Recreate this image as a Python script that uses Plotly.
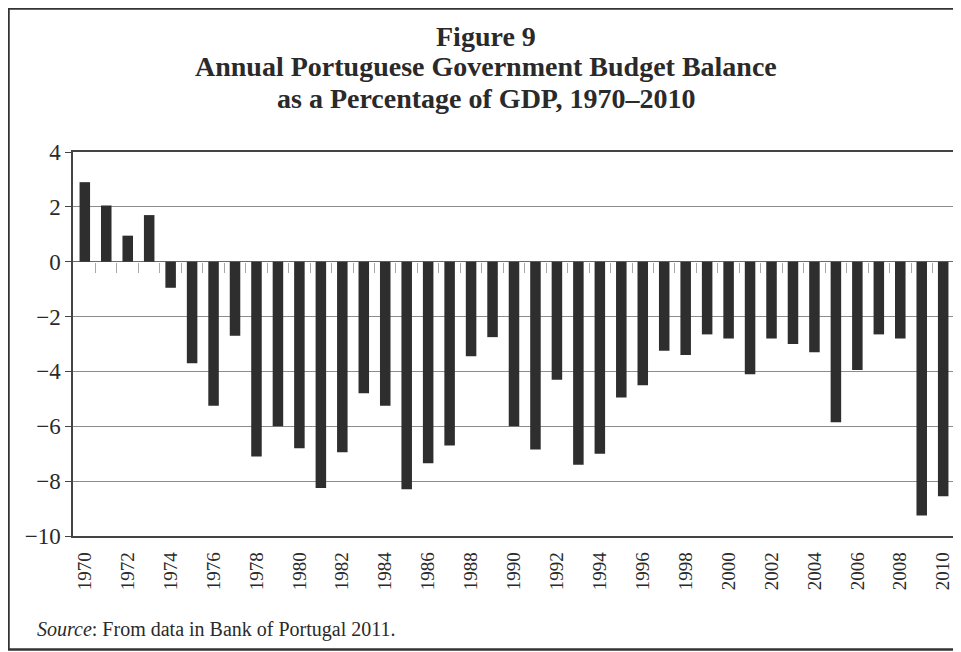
import plotly.graph_objects as go

years = list(range(1970, 2011))
balance = [2.9, 2.05, 0.95, 1.7, -0.95, -3.7, -5.25, -2.7, -7.1, -6.0,
           -6.8, -8.25, -6.95, -4.8, -5.25, -8.3, -7.35, -6.7, -3.45, -2.75,
           -6.0, -6.85, -4.3, -7.4, -7.0, -4.95, -4.5, -3.25, -3.4, -2.65,
           -2.8, -4.1, -2.8, -3.0, -3.3, -5.85, -3.95, -2.65, -2.8, -9.25,
           -8.55]
x_ticks = list(range(1970, 2011, 2))
y_ticks = [4, 2, 0, -2, -4, -6, -8, -10]
y_tick_text = ["4", "2", "0", "\u22122", "\u22124", "\u22126", "\u22128", "\u221210"]
minor_ticks = [y + 0.5 for y in years[:-1]]

serif = "Liberation Serif, Times New Roman, serif"

# figure geometry (pixels)
W, H = 953, 644
L, R, T, B = 65, 6, 144, 116
PW, PH = W - L - R, H - T - B


def px(fx):
    return (fx - L) / PW


def py(fy):
    return (H - B - fy) / PH


fig = go.Figure()
fig.add_trace(go.Bar(x=years, y=balance, width=0.49,
                     marker=dict(color="#2e2e2e", line=dict(width=0))))

title_lines = ["Figure 9", "Annual Portuguese Government Budget Balance",
               "as a Percentage of GDP, 1970\u20132010"]
title_y = [28, 59, 90]
annotations = []
for txt, ty in zip(title_lines, title_y):
    annotations.append(dict(
        text="<b>" + txt + "</b>", xref="paper", yref="paper",
        x=px(478), y=py(ty), xanchor="center", yanchor="middle",
        showarrow=False, font=dict(family=serif, size=28, color="#2a2a2a")))
annotations.append(dict(
    text="<i>Source</i>: From data in Bank of Portugal 2011.",
    xref="paper", yref="paper", x=px(27), y=py(621),
    xanchor="left", yanchor="middle", showarrow=False,
    font=dict(family=serif, size=20, color="#2a2a2a")))

fig.update_layout(
    width=W, height=H,
    margin=dict(l=L, r=R, t=T, b=B, autoexpand=False),
    paper_bgcolor="white", plot_bgcolor="white",
    showlegend=False,
    font=dict(family=serif, color="#2a2a2a"),
    xaxis=dict(
        range=[1969.45, 2010.55], tickvals=x_ticks, ticktext=[str(v) for v in x_ticks],
        tickangle=-90, tickfont=dict(family=serif, size=19, color="#2a2a2a"),
        showgrid=False, zeroline=False, showline=True, linecolor="#444",
        linewidth=1.5, mirror=True, ticks="", ticklabelstandoff=7,
        automargin=False,
    ),
    xaxis2=dict(
        range=[1969.45, 2010.55], overlaying="x", anchor="free",
        position=(0 - (-10)) / 14, side="bottom",
        tickvals=minor_ticks, ticks="outside", ticklen=10, tickwidth=1,
        tickcolor="#a8a8a8", showticklabels=False, showline=False,
        showgrid=False, zeroline=False,
    ),
    yaxis=dict(
        range=[-10, 4], tickvals=y_ticks, ticktext=y_tick_text,
        tickfont=dict(family=serif, size=23, color="#2a2a2a"),
        showgrid=True, gridcolor="#8c8c8c", gridwidth=1,
        zeroline=True, zerolinecolor="#6a6a6a", zerolinewidth=1.2,
        showline=True, linecolor="#444", linewidth=1.5, mirror=True,
        ticks="outside", ticklen=6, tickcolor="#444", automargin=False,
    ),
    annotations=annotations,
    shapes=[dict(type="rect", xref="paper", yref="paper",
                 x0=px(0.5), x1=px(960), y0=py(641.5), y1=py(0.5),
                 line=dict(color="#333", width=2.5))],
)
# invisible helper trace to activate the zero-line tick axis
fig.add_trace(go.Scatter(x=[None], y=[None], xaxis="x2", showlegend=False,
                         hoverinfo="skip"))

fig.write_html("out.html")
